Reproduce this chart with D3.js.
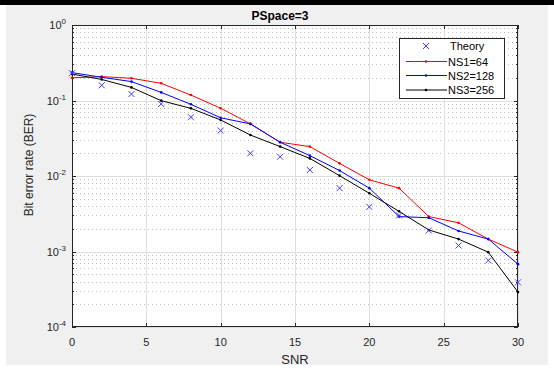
<!DOCTYPE html>
<html>
<head>
<meta charset="utf-8">
<script src="https://cdn.jsdelivr.net/npm/d3@7"></script>
<style>
body { margin: 0; background: #fff; }
svg { display: block; font-family: Arial, "Liberation Sans", sans-serif; }
</style>
</head>
<body>
<svg id="chart" width="554" height="369"></svg>
<script>
// values
var snr = [0, 2, 4, 6, 8, 10, 12, 14, 16, 18, 20, 22, 24, 26, 28, 30]
var theory = [0.23, 0.159, 0.122, 0.09, 0.06, 0.04, 0.02, 0.018, 0.012, 0.0069, 0.0039, 0.003, 0.0019, 0.0012, 0.00076, 0.00039]
var ns1 = [0.20, 0.207, 0.197, 0.169, 0.118, 0.079, 0.049, 0.028, 0.0245, 0.0147, 0.0089, 0.0069, 0.0029, 0.0024, 0.00146, 0.00098]
var ns2 = [0.234, 0.203, 0.178, 0.128, 0.089, 0.059, 0.049, 0.028, 0.0186, 0.0118, 0.0069, 0.0029, 0.0028, 0.00187, 0.00146, 0.00068]
var ns3 = [0.224, 0.19, 0.149, 0.0995, 0.0787, 0.0552, 0.0349, 0.0245, 0.0171, 0.0101, 0.0059, 0.0034, 0.00193, 0.00146, 0.00098, 0.00029]
var xTicks = [0, 5, 10, 15, 20, 25, 30]
var yDecades = [0, -1, -2, -3, -4]
var legendNames = ["Theory", "NS1=64", "NS2=128", "NS3=256"]

var svg = d3.select("#chart")
var pLeft = 72, pRight = 518, pTop = 25, pBottom = 327

// figure background
svg.append("rect").attr("x", 6).attr("y", 5).attr("width", 542).attr("height", 360).attr("fill", "#f0f0f0")
svg.append("rect").attr("x", 0).attr("y", 0).attr("width", 554).attr("height", 5).attr("fill", "#000")

var x = d3.scaleLinear().domain([0, 30]).range([pLeft, pRight])
var y = d3.scaleLog().domain([1e-4, 1]).range([pBottom, pTop])

svg.append("rect").attr("x", pLeft).attr("y", pTop).attr("width", pRight - pLeft).attr("height", pBottom - pTop).attr("fill", "#fff")

// minor ticks of the log axis
var minor = []
yDecades.slice(1).forEach(e => {
    for (var k = 2; k <= 9; k++) minor.push(k * Math.pow(10, e))
})

var grid = svg.append("g")
grid.selectAll(".minor").data(minor).enter().append("line")
    .attr("x1", pLeft).attr("x2", pRight)
    .attr("y1", d => Math.round(y(d)) + 0.5).attr("y2", d => Math.round(y(d)) + 0.5)
    .attr("stroke", "#bdbdbd").attr("stroke-width", 1).attr("stroke-dasharray", "1,3")
grid.selectAll(".hmaj").data(yDecades).enter().append("line")
    .attr("x1", pLeft).attr("x2", pRight)
    .attr("y1", d => Math.round(y(Math.pow(10, d))) + 0.5).attr("y2", d => Math.round(y(Math.pow(10, d))) + 0.5)
    .attr("stroke", "#dedede")
grid.selectAll(".vmaj").data(xTicks).enter().append("line")
    .attr("x1", d => Math.round(x(d)) + 0.5).attr("x2", d => Math.round(x(d)) + 0.5)
    .attr("y1", pTop).attr("y2", pBottom)
    .attr("stroke", "#dedede")

// axes box and ticks
var axisCol = "#262626"
svg.append("rect").attr("x", pLeft + 0.5).attr("y", pTop + 0.5).attr("width", pRight - pLeft - 1).attr("height", pBottom - pTop - 1)
    .attr("fill", "none").attr("stroke", axisCol).attr("stroke-width", 1)
var ticks = svg.append("g").attr("stroke", axisCol)
xTicks.forEach(t => {
    var xx = Math.round(x(t)) + 0.5
    ticks.append("line").attr("x1", xx).attr("x2", xx).attr("y1", pBottom).attr("y2", pBottom - 4)
    ticks.append("line").attr("x1", xx).attr("x2", xx).attr("y1", pTop).attr("y2", pTop + 4)
})
yDecades.forEach(e => {
    var yy = Math.round(y(Math.pow(10, e))) + 0.5
    ticks.append("line").attr("x1", pLeft).attr("x2", pLeft + 4).attr("y1", yy).attr("y2", yy)
    ticks.append("line").attr("x1", pRight).attr("x2", pRight - 4).attr("y1", yy).attr("y2", yy)
})
minor.forEach(m => {
    var yy = Math.round(y(m)) + 0.5
    ticks.append("line").attr("x1", pLeft).attr("x2", pLeft + 2).attr("y1", yy).attr("y2", yy)
    ticks.append("line").attr("x1", pRight).attr("x2", pRight - 2).attr("y1", yy).attr("y2", yy)
})

// tick labels
svg.selectAll(".xl").data(xTicks).enter().append("text")
    .attr("x", d => x(d)).attr("y", 346).attr("text-anchor", "middle")
    .attr("font-size", 11).attr("fill", axisCol).text(d => d)
yDecades.forEach(e => {
    var t = svg.append("text").attr("x", 66).attr("y", y(Math.pow(10, e)) + 4)
        .attr("text-anchor", "end").attr("font-size", 11).attr("fill", axisCol)
    t.append("tspan").text("10")
    t.append("tspan").attr("dy", -5).attr("font-size", 8).text(e)
})

svg.append("text").attr("x", 280).attr("y", 20).attr("text-anchor", "middle")
    .attr("font-size", 12).attr("font-weight", "bold").attr("fill", "#000").text("PSpace=3")
svg.append("text").attr("x", 295).attr("y", 364).attr("text-anchor", "middle")
    .attr("font-size", 13).attr("fill", axisCol).text("SNR")
svg.append("text").attr("transform", "translate(33,165) rotate(-90)").attr("text-anchor", "middle")
    .attr("font-size", 12).attr("fill", axisCol).text("Bit error rate (BER)")

// series
var line = d3.line().x((d, i) => x(snr[i])).y(d => y(d))
var series = [[ns1, "#ff0000"], [ns2, "#0000ff"], [ns3, "#000000"]]
series.forEach(s => {
    svg.append("path").datum(s[0]).attr("d", line).attr("fill", "none").attr("stroke", s[1]).attr("stroke-width", 1)
    svg.selectAll(null).data(s[0]).enter().append("circle")
        .attr("cx", (d, i) => x(snr[i])).attr("cy", d => y(d)).attr("r", 1.3).attr("fill", s[1])
})

function cross(g, cx, cy) {
    g.append("path").attr("d", `M${cx - 3},${cy - 3}L${cx + 3},${cy + 3}M${cx - 3},${cy + 3}L${cx + 3},${cy - 3}`)
        .attr("stroke", "#3c3cff").attr("stroke-width", 1).attr("fill", "none")
}
var crosses = svg.append("g")
theory.forEach((d, i) => cross(crosses, x(snr[i]), y(d)))

// legend
var lg = svg.append("g")
lg.append("rect").attr("x", 399.5).attr("y", 38.5).attr("width", 105).attr("height", 60)
    .attr("fill", "#fff").attr("stroke", axisCol)
var rowY = [46, 61.5, 75.5, 90]
var cols = [null, "#ff0000", "#0000ff", "#000000"]
legendNames.forEach((n, i) => {
    if (i == 0) cross(lg, 426, rowY[i])
    else {
        lg.append("line").attr("x1", 406).attr("x2", 447).attr("y1", rowY[i]).attr("y2", rowY[i]).attr("stroke", cols[i])
        lg.append("circle").attr("cx", 426).attr("cy", rowY[i]).attr("r", 1.3).attr("fill", cols[i])
    }
    lg.append("text").attr("x", i == 0 ? 450 : 448).attr("y", rowY[i] + 4).attr("font-size", 11).attr("fill", "#000").text(n)
})
</script>
</body>
</html>
